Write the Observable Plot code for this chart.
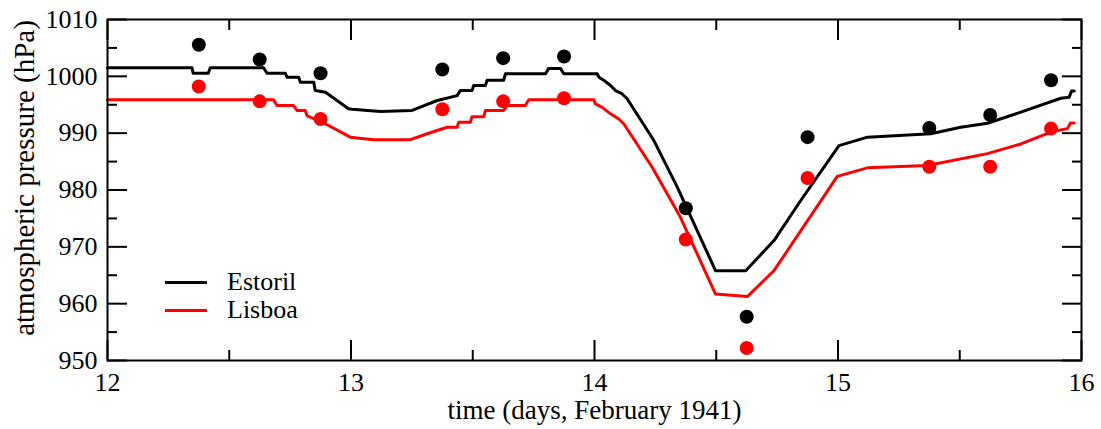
<!DOCTYPE html>
<html>
<head>
<meta charset="utf-8">
<script src="https://cdn.jsdelivr.net/npm/d3@7"></script>
<script src="https://cdn.jsdelivr.net/npm/@observablehq/plot@0.6"></script>
<style>
  body { margin: 0; background: #fff; }
  #chart { position: relative; width: 1101px; height: 429px; font-family: "Liberation Serif", "Times New Roman", serif; }
  #legend { position: absolute; left: 165px; top: 268px; font-size: 26px; line-height: 28px; color: #000; }
  .item { display: flex; align-items: center; height: 28px; }
  .swatch { width: 42px; height: 3px; margin-right: 20px; }
</style>
</head>
<body>
<div id="chart"></div>
<script>
// Model series (time in days of February 1941, pressure in hPa)
const estorilT = [12.000, 12.347, 12.352, 12.414, 12.422, 12.641, 12.655, 12.730, 12.737, 12.785, 12.792, 12.847, 12.853, 12.895, 12.990, 13.004, 13.121, 13.251, 13.354, 13.436, 13.449, 13.497, 13.504, 13.552, 13.559, 13.627, 13.634, 13.799, 13.812, 13.860, 13.874, 14.011, 14.018, 14.038, 14.066, 14.086, 14.114, 14.134, 14.244, 14.340, 14.497, 14.621, 14.737, 14.847, 15.004, 15.121, 15.381, 15.504, 15.614, 15.751, 15.915, 15.949, 15.959, 15.970];
const estorilP = [1001.5, 1001.5, 1000.55, 1000.55, 1001.5, 1001.5, 1000.55, 1000.55, 999.85, 999.85, 998.97, 998.97, 997.5, 997.2, 994.3, 994.2, 993.8, 994.0, 995.75, 996.6, 997.5, 997.5, 998.4, 998.4, 999.3, 999.3, 1000.45, 1000.45, 1001.4, 1001.4, 1000.45, 1000.45, 999.85, 999.3, 998.4, 997.5, 996.9, 996.05, 988.7, 980.5, 965.8, 965.8, 971.1, 978.15, 987.8, 989.3, 989.9, 991.05, 991.75, 993.7, 996.15, 996.3, 997.4, 997.4];

const lisboaT = [12.000, 12.682, 12.696, 12.764, 12.778, 12.812, 12.819, 12.908, 12.997, 13.093, 13.244, 13.3125, 13.395, 13.436, 13.442, 13.490, 13.497, 13.545, 13.552, 13.627, 13.641, 13.716, 13.730, 13.997, 14.004, 14.032, 14.066, 14.100, 14.120, 14.237, 14.353, 14.497, 14.628, 14.737, 14.997, 15.121, 15.367, 15.614, 15.751, 15.874, 15.942, 15.955, 15.970];
const lisboaP = [995.9, 995.9, 994.85, 994.85, 994.0, 994.0, 993.1, 991.35, 989.3, 988.85, 988.85, 989.9, 991.05, 991.05, 991.9, 991.9, 992.9, 992.9, 994.0, 994.0, 994.85, 994.85, 995.9, 995.9, 995.15, 994.55, 993.4, 992.5, 991.65, 984.0, 975.2, 961.7, 961.25, 965.8, 982.4, 983.9, 984.3, 986.4, 988.1, 990.2, 990.8, 991.8, 991.8];

// Observations
const obsT = [12.375, 12.625, 12.875, 13.375, 13.625, 13.875, 14.375, 14.625, 14.875, 15.375, 15.625, 15.875];
const estorilObs = [1005.55, 1002.96, 1000.55, 1001.2, 1003.2, 1003.5, 976.8, 957.7, 989.3, 990.9, 993.2, 999.3];
const lisboaObs = [998.2, 995.6, 992.5, 994.2, 995.6, 996.15, 971.3, 952.2, 982.1, 984.1, 984.1, 990.8];

// Axes
const xMajor = [12, 13, 14, 15, 16];
const xMinor = [12.5, 13.5, 14.5, 15.5];
const yMajor = [950, 960, 970, 980, 990, 1000, 1010];
const yMinor = [955, 965, 975, 985, 995, 1005];

const seriesNames = ["Estoril", "Lisboa"];
const seriesColors = ["#000000", "#ff0000"];
const xTitle = "time (days, February 1941)";
const yTitle = "atmospheric pressure (hPa)";

const estorilLine = estorilT.map((t, i) => ({t, p: estorilP[i]}));
const lisboaLine = lisboaT.map((t, i) => ({t, p: lisboaP[i]}));
const estorilDots = obsT.map((t, i) => ({t, p: estorilObs[i]}));
const lisboaDots = obsT.map((t, i) => ({t, p: lisboaObs[i]}));

const tk = {text: null, label: null, strokeWidth: 2};
const fmt = d => String(d);

const plot = Plot.plot({
  width: 1101,
  height: 429,
  marginLeft: 107,
  marginRight: 20,
  marginTop: 19,
  marginBottom: 69,
  x: {domain: [12, 16]},
  y: {domain: [950, 1010]},
  style: {fontFamily: '"Liberation Serif", "Times New Roman", serif', fontSize: "26px", color: "black", background: "white", overflow: "visible"},
  marks: [
    Plot.line(estorilLine, {x: "t", y: "p", stroke: seriesColors[0], strokeWidth: 3}),
    Plot.line(lisboaLine, {x: "t", y: "p", stroke: seriesColors[1], strokeWidth: 3}),
    Plot.dot(estorilDots, {x: "t", y: "p", r: 7, fill: seriesColors[0]}),
    Plot.dot(lisboaDots, {x: "t", y: "p", r: 7, fill: seriesColors[1]}),
    // tick labels
    Plot.axisX(xMajor, {anchor: "bottom", tickSize: 0, tickPadding: 12, label: null, fontSize: 26, tickFormat: fmt}),
    Plot.axisY(yMajor, {anchor: "left", tickSize: 0, tickPadding: 10, label: null, fontSize: 26, tickFormat: fmt}),
    // inward ticks on all four sides
    Plot.axisX(xMajor, {anchor: "bottom", tickSize: -20, ...tk}),
    Plot.axisX(xMinor, {anchor: "bottom", tickSize: -10, ...tk}),
    Plot.axisX(xMajor, {anchor: "top", tickSize: -20, ...tk}),
    Plot.axisX(xMinor, {anchor: "top", tickSize: -10, ...tk}),
    Plot.axisY(yMajor, {anchor: "left", tickSize: -20, ...tk}),
    Plot.axisY(yMinor, {anchor: "left", tickSize: -10, ...tk}),
    Plot.axisY(yMajor, {anchor: "right", tickSize: -20, ...tk}),
    Plot.axisY(yMinor, {anchor: "right", tickSize: -10, ...tk}),
    Plot.frame({stroke: "black", strokeWidth: 2}),
    // axis titles
    Plot.text([xTitle], {frameAnchor: "bottom", textAnchor: "middle", lineAnchor: "middle", dy: 50, fontSize: 27, fill: "black"}),
    Plot.text([yTitle], {frameAnchor: "left", textAnchor: "middle", lineAnchor: "middle", dx: -83, dy: -12, rotate: -90, fontSize: 29, fill: "black"})
  ]
});

const chart = document.getElementById("chart");
chart.appendChild(plot);

const legend = document.createElement("div");
legend.id = "legend";
seriesNames.forEach((name, i) => {
  const item = document.createElement("div");
  item.className = "item";
  const sw = document.createElement("div");
  sw.className = "swatch";
  sw.style.background = seriesColors[i];
  const label = document.createElement("span");
  label.textContent = name;
  item.appendChild(sw);
  item.appendChild(label);
  legend.appendChild(item);
});
chart.appendChild(legend);
</script>
</body>
</html>
